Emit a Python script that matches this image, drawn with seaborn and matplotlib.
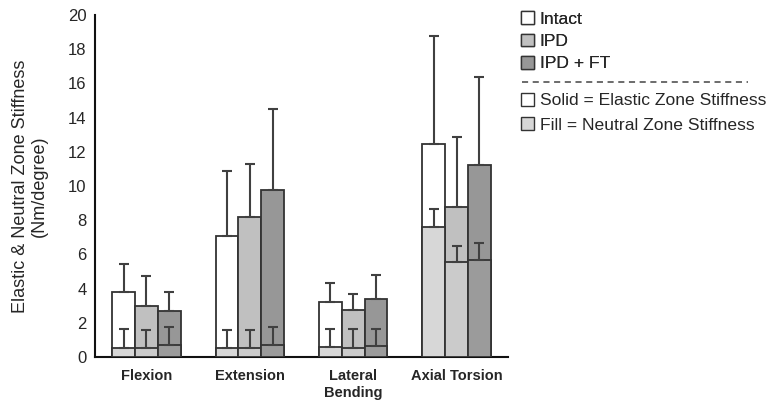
import matplotlib
matplotlib.use("Agg")
import matplotlib.pyplot as plt
import seaborn as sns
import numpy as np
import pandas as pd
from matplotlib.patches import Patch
from matplotlib.lines import Line2D

motions = ["Flexion", "Extension", "Lateral\nBending", "Axial Torsion"]
groups = ["Intact", "IPD", "IPD + FT"]

# values per motion, order: Intact, IPD, IPD + FT
elastic = [[3.8, 3.0, 2.7], [7.05, 8.2, 9.75], [3.2, 2.75, 3.4], [12.45, 8.75, 11.25]]
elastic_sd = [[1.65, 1.75, 1.1], [3.8, 3.1, 4.75], [1.1, 0.95, 1.4], [6.3, 4.1, 5.15]]
neutral = [[0.55, 0.5, 0.7], [0.55, 0.5, 0.7], [0.6, 0.52, 0.63], [7.6, 5.55, 5.7]]
neutral_sd = [[1.1, 1.05, 1.05], [1.05, 1.05, 1.05], [1.05, 1.1, 1.0], [1.05, 0.95, 0.95]]

elastic_colors = ["#ffffff", "#c0c0c0", "#979797"]
neutral_colors = ["#d7d7d7", "#cbcbcb", "#9b9b9b"]

rows = []
for i, m in enumerate(motions):
    for j, g in enumerate(groups):
        rows.append({"motion": m, "group": g,
                     "elastic": elastic[i][j], "elastic_sd": elastic_sd[i][j],
                     "neutral": neutral[i][j], "neutral_sd": neutral_sd[i][j]})
df = pd.DataFrame(rows)

sns.set_style("white")
plt.rcParams["font.family"] = ["Liberation Sans", "DejaVu Sans"]

fig = plt.figure(figsize=(7.7, 4.07), dpi=100)
ax = fig.add_axes([0.123, 0.123, 0.537, 0.84])

edge = "#333333"
sns.barplot(data=df, x="motion", y="elastic", hue="group", order=motions,
            hue_order=groups, palette=elastic_colors, width=0.66,
            edgecolor=edge, linewidth=1.3, errorbar=None, legend=False,
            saturation=1, ax=ax)
n_el = len(ax.patches)
sns.barplot(data=df, x="motion", y="neutral", hue="group", order=motions,
            hue_order=groups, palette=neutral_colors, width=0.66,
            edgecolor=edge, linewidth=1.3, errorbar=None, legend=False,
            saturation=1, ax=ax)

err_kw = dict(fmt="none", ecolor="#404040", elinewidth=1.5, capsize=3.5,
              capthick=1.5)
# patches are ordered hue-major: for each group, all motions
for k, p in enumerate(ax.patches):
    if k < 2 * n_el:
        layer = 0 if k < n_el else 1
        kk = k % n_el
        j, i = divmod(kk, len(motions))
        x = p.get_x() + p.get_width() / 2
        if layer == 0:
            y, sd, z = elastic[i][j], elastic_sd[i][j], 1.5
        else:
            y, sd, z = neutral[i][j], neutral_sd[i][j], 3.5
        ax.errorbar(x, y, yerr=[[0], [sd]], zorder=z, **err_kw)

for k, p in enumerate(ax.patches):
    p.set_zorder(1 if k < n_el else 3)

ax.set_ylim(0, 20)
ax.set_yticks(np.arange(0, 21, 2))
ax.set_xlim(-0.5, 3.5)
ax.set_xticks([0.5, 1.5, 2.5, 3.5])
ax.set_xticklabels([])
ax.set_xticks(range(4), minor=True)
ax.set_xticklabels(motions, minor=True, fontweight="bold", fontsize=10.5)
ax.tick_params(axis="x", which="minor", length=0, pad=9)
ax.tick_params(axis="x", which="major", length=4, width=1.2, direction="out",
               color="#222222")
ax.tick_params(axis="y", length=4, width=1.2, direction="out", labelsize=12,
               color="#222222", pad=2)
ax.set_xlabel("")
ax.set_ylabel("Elastic & Neutral Zone Stiffness\n(Nm/degree)", fontsize=13,
              labelpad=14)
sns.despine(ax=ax)
for s in ["left", "bottom"]:
    ax.spines[s].set_linewidth(1.5)
    ax.spines[s].set_color("#111111")

leg_kw = dict(loc="upper left", frameon=False, fontsize=12.6, handlelength=0.75,
              handleheight=0.75, handletextpad=0.3, borderpad=0, borderaxespad=0)
h1 = [Patch(facecolor=c, edgecolor=edge, linewidth=1.0) for c in elastic_colors]
leg1 = fig.legend(h1, groups, bbox_to_anchor=(0.677, 0.972), labelspacing=0.38,
                  **leg_kw)
fig.add_artist(leg1)
fig.add_artist(Line2D([0.678, 0.972], [0.798, 0.798], transform=fig.transFigure,
                      color="#444444", linestyle=(0, (4, 3)), linewidth=1.1))
h2 = [Patch(facecolor="#ffffff", edgecolor=edge, linewidth=1.0),
      Patch(facecolor="#d7d7d7", edgecolor=edge, linewidth=1.0)]
fig.legend(h2, ["Solid = Elastic Zone Stiffness", "Fill = Neutral Zone Stiffness"],
           bbox_to_anchor=(0.677, 0.772), labelspacing=0.5, **leg_kw)

fig.savefig("out.png", dpi=100)
